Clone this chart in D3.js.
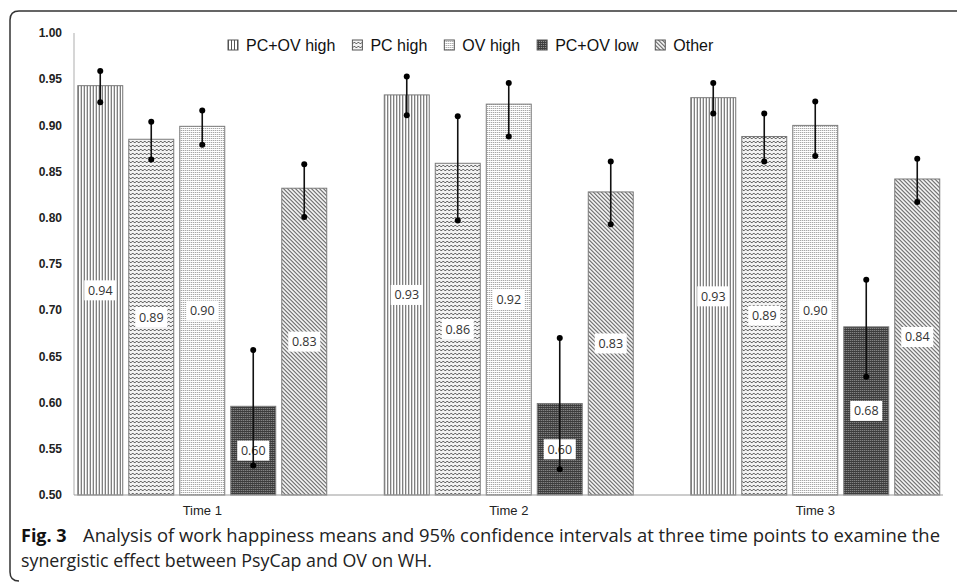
<!DOCTYPE html>
<html>
<head>
<meta charset="utf-8">
<script src="https://cdn.jsdelivr.net/npm/d3@7"></script>
<style>
  body { margin: 0; background: #fff; }
  svg { display: block; }
</style>
</head>
<body>
<div id="chart"></div>
<script>
// data
const times = ["Time 1", "Time 2", "Time 3"];
const groups = ["PC+OV high", "PC high", "OV high", "PC+OV low", "Other"];
const meansTime1 = [0.943, 0.885, 0.899, 0.596, 0.832];
const meansTime2 = [0.933, 0.859, 0.923, 0.599, 0.828];
const meansTime3 = [0.930, 0.888, 0.900, 0.682, 0.842];
const lowerTime1 = [0.925, 0.863, 0.879, 0.532, 0.801];
const upperTime1 = [0.959, 0.904, 0.916, 0.657, 0.858];
const lowerTime2 = [0.911, 0.797, 0.888, 0.528, 0.793];
const upperTime2 = [0.953, 0.910, 0.946, 0.670, 0.861];
const lowerTime3 = [0.913, 0.861, 0.867, 0.628, 0.817];
const upperTime3 = [0.946, 0.913, 0.926, 0.733, 0.864];
const yTicks = [0.50, 0.55, 0.60, 0.65, 0.70, 0.75, 0.80, 0.85, 0.90, 0.95, 1.00];
const captionBold = "Fig. 3";
const captionLine1 = "Analysis of work happiness means and 95% confidence intervals at three time points to examine the";
const captionLine2 = "synergistic effect between PsyCap and OV on WH.";

const means = [meansTime1, meansTime2, meansTime3];
const lowers = [lowerTime1, lowerTime2, lowerTime3];
const uppers = [upperTime1, upperTime2, upperTime3];

const dataset = [];
times.forEach((t, i) => {
  groups.forEach((g, j) => {
    dataset.push({ time: t, group: g, mean: means[i][j], lo: lowers[i][j], hi: uppers[i][j] });
  });
});

const W = 957, H = 582;
const svg = d3.select("#chart").append("svg")
  .attr("width", W)
  .attr("height", H);

// patterns for the bars
const defs = svg.append("defs");
function pattern(id, size, bg, draw) {
  const p = defs.append("pattern")
    .attr("id", id)
    .attr("patternUnits", "userSpaceOnUse")
    .attr("width", size)
    .attr("height", size);
  p.append("rect").attr("width", size).attr("height", size).attr("fill", bg);
  draw(p);
}
pattern("p-vert", 3, "#ffffff", p => {
  p.append("rect").attr("x", 0).attr("y", 0).attr("width", 1).attr("height", 3).attr("fill", "#555");
});
pattern("p-zig", 4, "#f2f2f2", p => {
  p.append("path").attr("d", "M0,3 L2,1 L4,3").attr("fill", "none").attr("stroke", "#666").attr("stroke-width", 1);
});
pattern("p-dots", 2, "#ffffff", p => {
  p.append("rect").attr("x", 0).attr("y", 0).attr("width", 1).attr("height", 1).attr("fill", "#8a8a8a");
});
pattern("p-check", 2, "#3c3c3c", p => {
  p.append("rect").attr("x", 0).attr("y", 0).attr("width", 1).attr("height", 1).attr("fill", "#9a9a9a");
});
pattern("p-diag", 4, "#ffffff", p => {
  p.append("path").attr("d", "M-1,-1 L5,5 M-1,3 L1,5 M3,-1 L5,1").attr("stroke", "#555").attr("stroke-width", 1.1);
});

const fills = d3.scaleOrdinal()
  .domain(groups)
  .range(["url(#p-vert)", "url(#p-zig)", "url(#p-dots)", "url(#p-check)", "url(#p-diag)"]);

// frame
svg.append("path")
  .attr("d", "M957,11 L19,11 Q10,11 10,20 L10,572 Q10,581 19,581")
  .attr("fill", "none")
  .attr("stroke", "#333")
  .attr("stroke-width", 1.5);

// scales
const x0 = d3.scaleBand()
  .domain(times)
  .range([49, 968.5])
  .padding(0);

const x1 = d3.scaleBand()
  .domain(groups)
  .range([0, 255])
  .paddingInner(0.118)
  .paddingOuter(0.059);

const y = d3.scaleLinear()
  .domain([0.5, 1.0])
  .range([495, 33]);

// axes
svg.append("line")
  .attr("x1", 74).attr("x2", 74)
  .attr("y1", y(1.0)).attr("y2", y(0.5))
  .attr("stroke", "#c8c8c8").attr("stroke-width", 1.5);

svg.append("g")
  .selectAll("text")
  .data(yTicks)
  .enter()
  .append("text")
  .attr("x", 62)
  .attr("y", d => y(d))
  .attr("dy", "0.35em")
  .attr("text-anchor", "end")
  .style("font-family", "'Liberation Sans', Arial, sans-serif")
  .style("font-size", "12px")
  .style("font-weight", "bold")
  .style("fill", "#222")
  .text(d => d3.format(".2f")(d));

const groupG = svg.selectAll(".grp")
  .data(times)
  .enter()
  .append("g")
  .attr("class", "grp")
  .attr("transform", t => `translate(${x0(t) + x0.bandwidth() / 2 - 127.5},0)`);

// bars
groupG.selectAll(".bar")
  .data(t => dataset.filter(d => d.time === t))
  .enter()
  .append("rect")
  .attr("class", "bar")
  .attr("x", d => x1(d.group))
  .attr("y", d => y(d.mean))
  .attr("width", x1.bandwidth())
  .attr("height", d => y(0.5) - y(d.mean))
  .attr("fill", d => fills(d.group))
  .attr("stroke", "#7a7a7a")
  .attr("stroke-width", 1);

// x axis line
svg.append("line")
  .attr("x1", 74).attr("x2", 943)
  .attr("y1", y(0.5)).attr("y2", y(0.5))
  .attr("stroke", "#9a9a9a").attr("stroke-width", 1.2);

svg.append("g")
  .selectAll("text")
  .data(times)
  .enter()
  .append("text")
  .attr("x", d => x0(d) + x0.bandwidth() / 2)
  .attr("y", 515)
  .attr("text-anchor", "middle")
  .style("font-family", "'Liberation Sans', Arial, sans-serif")
  .style("font-size", "13px")
  .style("fill", "#222")
  .text(d => d);

// value labels
const lab = groupG.selectAll(".lab")
  .data(t => dataset.filter(d => d.time === t))
  .enter()
  .append("g")
  .attr("class", "lab")
  .attr("transform", d => `translate(${x1(d.group) + x1.bandwidth() / 2},${(y(d.mean) + y(0.5)) / 2})`);

lab.append("rect")
  .attr("x", -16).attr("y", -10)
  .attr("width", 32).attr("height", 20)
  .attr("fill", "#fff");

lab.append("text")
  .attr("text-anchor", "middle")
  .attr("dy", "0.35em")
  .style("font-family", "'Open Sans', sans-serif")
  .style("font-size", "12.5px")
  .style("fill", "#333")
  .text(d => d3.format(".2f")(d.mean));

// error bars
const err = groupG.selectAll(".err")
  .data(t => dataset.filter(d => d.time === t))
  .enter()
  .append("g")
  .attr("class", "err");

err.append("line")
  .attr("x1", d => x1(d.group) + x1.bandwidth() / 2)
  .attr("x2", d => x1(d.group) + x1.bandwidth() / 2)
  .attr("y1", d => y(d.hi))
  .attr("y2", d => y(d.lo))
  .attr("stroke", "#111")
  .attr("stroke-width", 1.6);

err.selectAll("circle")
  .data(d => [[d, d.hi], [d, d.lo]])
  .enter()
  .append("circle")
  .attr("cx", p => x1(p[0].group) + x1.bandwidth() / 2)
  .attr("cy", p => y(p[1]))
  .attr("r", 3)
  .attr("fill", "#000");

// legend
const legend = svg.append("g").attr("transform", "translate(228,45)");
let lx = 0;
groups.forEach(g => {
  const item = legend.append("g").attr("transform", `translate(${lx},0)`);
  item.append("rect")
    .attr("x", 0).attr("y", -5)
    .attr("width", 10).attr("height", 10)
    .attr("fill", fills(g))
    .attr("stroke", "#555")
    .attr("stroke-width", 1);
  const t = item.append("text")
    .attr("x", 18)
    .attr("y", 6)
    .style("font-family", "'Liberation Sans', Arial, sans-serif")
    .style("font-size", "16px")
    .style("fill", "#111")
    .text(g);
  lx += 18 + t.node().getComputedTextLength() + 17;
});

// caption
const cap = svg.append("g");
cap.append("text")
  .attr("x", 21).attr("y", 542)
  .style("font-family", "'Open Sans', sans-serif")
  .style("font-size", "18px")
  .style("font-weight", "bold")
  .style("fill", "#111")
  .text(captionBold);
cap.append("text")
  .attr("x", 83).attr("y", 542)
  .attr("textLength", 857)
  .attr("lengthAdjust", "spacingAndGlyphs")
  .style("font-family", "'Open Sans', sans-serif")
  .style("font-size", "17.5px")
  .style("fill", "#222")
  .text(captionLine1);
cap.append("text")
  .attr("x", 21).attr("y", 567)
  .attr("textLength", 411)
  .attr("lengthAdjust", "spacingAndGlyphs")
  .style("font-family", "'Open Sans', sans-serif")
  .style("font-size", "17.5px")
  .style("fill", "#222")
  .text(captionLine2);
</script>
</body>
</html>
